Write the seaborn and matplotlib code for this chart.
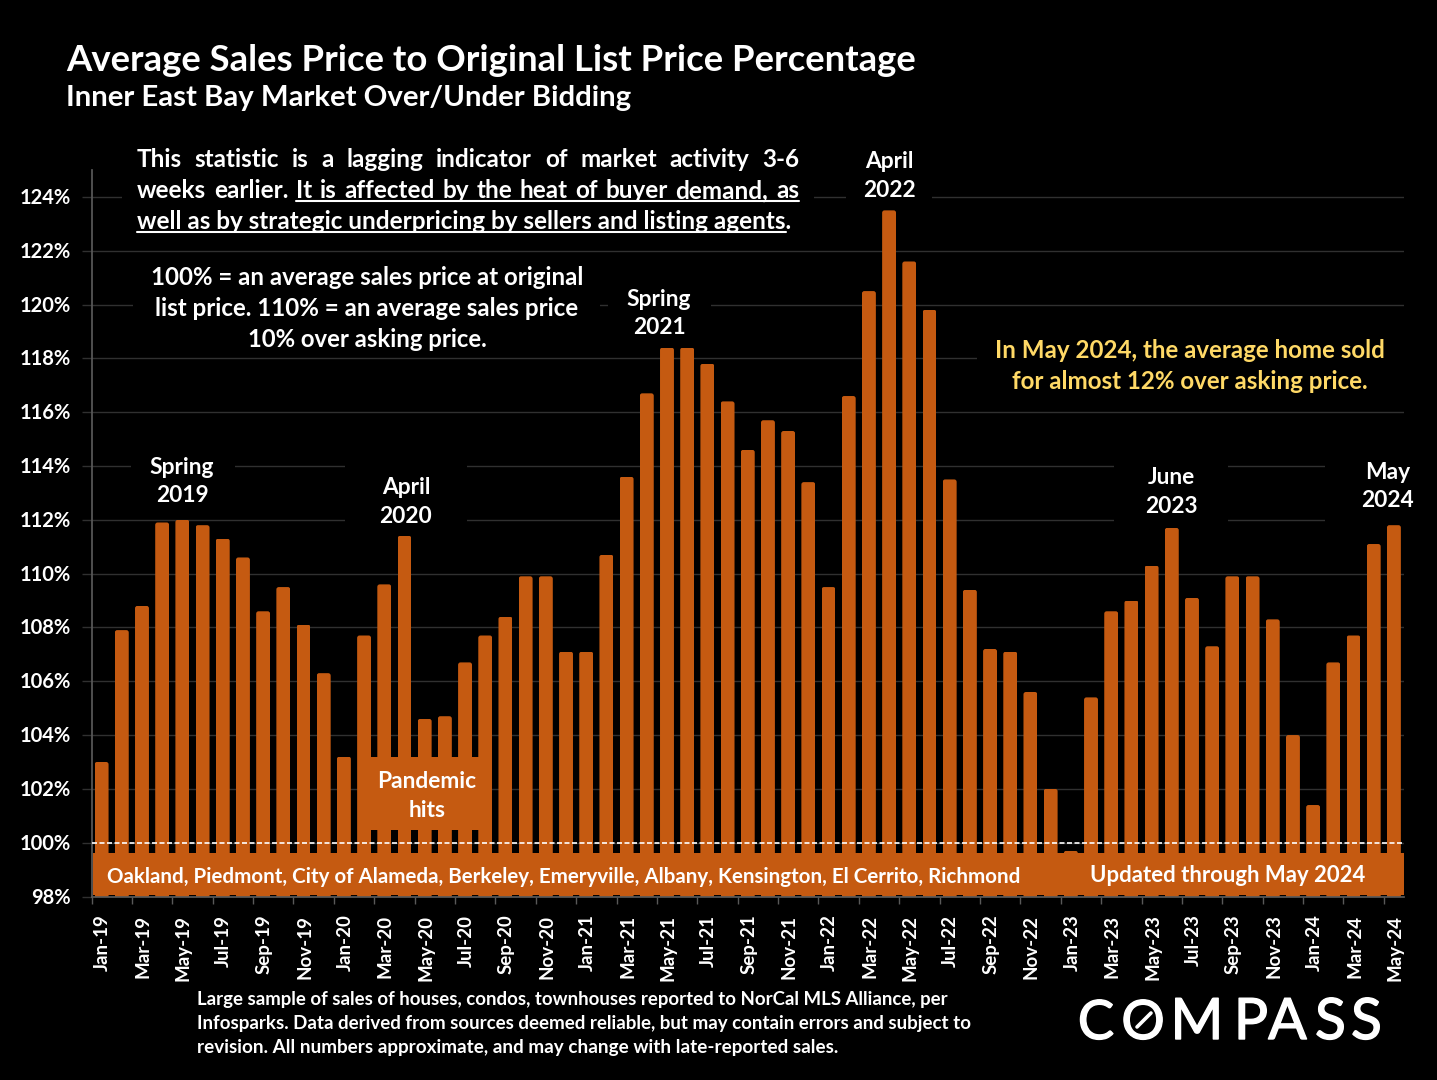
import matplotlib
matplotlib.use("Agg")
import matplotlib.pyplot as plt
import matplotlib.patheffects as pe
import seaborn as sns
from matplotlib.patches import FancyBboxPatch, Rectangle
from matplotlib.lines import Line2D
from matplotlib.transforms import IdentityTransform, Affine2D

W, H = 1437, 1080
ORANGE = "#C55A11"
YELLOW = "#FFD966"
GRID = "#303030"
AXIS = "#595959"

years = ["19", "20", "21", "22", "23", "24"]
names = ["Jan", "Feb", "Mar", "Apr", "May", "Jun", "Jul", "Aug", "Sep", "Oct", "Nov", "Dec"]
months = [f"{m}-{y}" for y in years for m in names][:65]
values = [103.0, 107.9, 108.8, 111.9, 112.0, 111.8, 111.3, 110.6, 108.6, 109.5, 108.1, 106.3,
          103.2, 107.7, 109.6, 111.4, 104.6, 104.7, 106.7, 107.7, 108.4, 109.9, 109.9, 107.1,
          107.1, 110.7, 113.6, 116.7, 118.4, 118.4, 117.8, 116.4, 114.6, 115.7, 115.3, 113.4,
          109.5, 116.6, 120.5, 123.5, 121.6, 119.8, 113.5, 109.4, 107.2, 107.1, 105.6, 102.0,
          99.7, 105.4, 108.6, 109.0, 110.3, 111.7, 109.1, 107.3, 109.9, 109.9, 108.3, 104.0,
          101.4, 106.7, 107.7, 111.1, 111.8]
yticks = list(range(98, 125, 2))

title = "Average Sales Price to Original List Price Percentage"
subtitle = "Inner East Bay Market Over/Under Bidding"
note_lines = ["This statistic is a lagging indicator of market activity 3-6",
              "weeks earlier. It is affected by the heat of buyer demand, as",
              "well as by strategic underpricing by sellers and listing agents."]
def_lines = ["100% = an average sales price at original",
             "list price. 110% = an average sales price",
             "10% over asking price."]
yellow_lines = ["In May 2024, the average home sold", "for almost 12% over asking price."]
foot_lines = ["Large sample of sales of houses, condos, townhouses reported to NorCal MLS Alliance, per",
              "Infosparks. Data derived from sources deemed reliable, but may contain errors and subject to",
              "revision. All numbers approximate, and may change with late-reported sales."]
cities = "Oakland, Piedmont, City of Alameda, Berkeley, Emeryville, Albany, Kensington, El Cerrito, Richmond"
updated = "Updated through May 2024"

sns.set_theme(style="dark")
plt.rcParams["font.family"] = ["Lato", "DejaVu Sans"]
plt.rcParams["font.weight"] = "bold"

fig = plt.figure(figsize=(W / 100, H / 100), dpi=100, facecolor="black")
L, R, T, B = 91.5, 1404, 170, 896.5
ax = fig.add_axes([L / W, 1 - B / H, (R - L) / W, (B - T) / H], facecolor="black")

sns.barplot(x=months, y=values, color=ORANGE, saturation=1, width=0.69, ax=ax, zorder=2, linewidth=0)
ax.set_ylim(98, 125)
ax.set_xlim(-0.5, 64.5)

ax.set_yticks(yticks)
ax.set_yticklabels([f"{v}%" for v in yticks], color="white", fontsize=14.5, fontweight="bold")
ax.set_xticks(range(0, 65, 2))
ax.set_xticklabels(months[::2], rotation=90, color="white", fontsize=13.5, fontweight="bold")
ax.set_xticks([i - 0.5 for i in range(0, 65, 2)], minor=True)
ax.tick_params(axis="x", which="major", length=0, pad=13, bottom=True)
ax.tick_params(axis="x", which="minor", length=5, width=1, color=AXIS, bottom=True)
ax.tick_params(axis="y", length=7, width=1, color=GRID, pad=8, left=True)
for lab in ax.get_xticklabels():
    lab.set_transform(lab.get_transform() + Affine2D().translate(1, 0))
for lab in ax.get_yticklabels():
    lab.set_transform(lab.get_transform() + Affine2D().translate(0, 1))
ax.set_axisbelow(True)
ax.grid(axis="y", color=GRID, lw=1)
ax.grid(axis="x", visible=False)
for side in ["top", "right"]:
    ax.spines[side].set_visible(False)
ax.spines["left"].set_color(AXIS)
ax.spines["bottom"].set_color(AXIS)
ax.set_xlabel("")
ax.set_ylabel("")

# rounded bar tops
aspect = ((R - L) / 65) / ((B - T) / 27)
for p in list(ax.patches):
    clip = FancyBboxPatch((p.get_x(), 90), p.get_width(), p.get_height() - 90,
                          boxstyle="round,pad=0,rounding_size=0.12", mutation_aspect=aspect,
                          transform=ax.transData)
    p.set_clip_path(clip)


def box(x0, y0, x1, y1, color="black", z=1):
    ax.add_patch(Rectangle((x0, H - y1), x1 - x0, y1 - y0, transform=IdentityTransform(),
                           facecolor=color, edgecolor="none", zorder=z, clip_on=False))


# black backings of the text boxes interrupt the gridlines
for b in [(122, 145, 814, 237), (133, 260, 600, 355), (846, 145, 932, 202), (608, 285, 711, 342),
          (131, 452, 235, 510), (345, 455, 467, 530), (1114, 455, 1228, 530),
          (1325, 458, 1405, 530), (977, 335, 1405, 395)]:
    box(*b)

ax.axhline(100, color="white", lw=1.2, ls=(0, (3, 1.5)), zorder=3)
box(358, 757, 491, 830, ORANGE, 4)
box(93, 853, 1404, 895, ORANGE, 4)

renderer = fig.canvas.get_renderer()


def txt(x, y, s, size=15, color="white", ha="left", width=None, weight="bold"):
    t = fig.text(x / W, 1 - y / H, s, fontsize=size, color=color, ha=ha, va="baseline",
                 fontweight=weight, zorder=10)
    if width is not None:
        w = t.get_window_extent(renderer).width
        t.set_fontsize(size * width / w)
    return t


def hline(x0, x1, y, lw=1.5):
    fig.add_artist(Line2D([x0 / W, x1 / W], [1 - y / H, 1 - y / H], color="white", lw=lw, zorder=10))


def justified(x0, x1, y, line, size):
    words = line.split()
    ts = [txt(x0, y, w, size) for w in words]
    ws = [t.get_window_extent(renderer).width for t in ts]
    gap = (x1 - x0 - sum(ws)) / (len(words) - 1)
    x = x0
    starts = []
    for t, w in zip(ts, ws):
        t.set_x(x / W)
        starts.append(x)
        x += w + gap
    return starts


txt(66, 71, title, 26, width=850)
txt(66, 106, subtitle, 20, width=567)

t3 = txt(137, 229, note_lines[2], 17, width=656)
fs = t3.get_fontsize()
justified(137, 799, 167, note_lines[0], fs)
st = justified(137, 799, 198, note_lines[1], fs)
hline(st[2], 799, 201)
hline(137, 786, 232)

for (y, s, w) in zip([285, 316, 347], def_lines, [432, 424, 239]):
    txt(367, y, s, 17, ha="center", width=w)
for (y, s, w) in zip([358, 389], yellow_lines, [390, 357]):
    txt(1190, y, s, 17, color=YELLOW, ha="center", width=w)
for (y, s, w) in zip([1005, 1029, 1053], foot_lines, [750, 775, 640]):
    txt(197, y, s, 13, width=w)

for cx, y1, y2, a, b in [(182, 474, 502, "Spring", "2019"), (406, 494, 523, "April", "2020"),
                         (659, 306, 334, "Spring", "2021"), (889, 168, 197, "April", "2022"),
                         (1171, 484, 513, "June", "2023"), (1388, 479, 507, "May", "2024"),
                         (427, 788, 817, "Pandemic", "hits")]:
    txt(cx, y1, a, 16.4, ha="center")
    txt(cx, y2, b, 16.4, ha="center")

txt(107, 883, cities, 15, width=913)
txt(1090, 882, updated, 16, width=275)

# logo
for ch, x0, x1, size in [("C", 1077, 1115, 39), ("O", 1123, 1163, 39), ("M", 1175, 1219, 41),
                         ("P", 1235, 1267, 41), ("A", 1267, 1308, 41), ("S", 1316, 1345, 41),
                         ("S", 1353, 1380, 41)]:
    t = txt((x0 + x1) / 2, 1039, ch, size, ha="center", weight="normal")
    t.set_path_effects([pe.withStroke(linewidth=1.0, foreground="white")])
fig.add_artist(Line2D([1137 / W, 1151 / W], [1 - 1027 / H, 1 - 1013 / H], color="white", lw=2.6, zorder=10))

fig.savefig("out.png", dpi=100, facecolor="black")
